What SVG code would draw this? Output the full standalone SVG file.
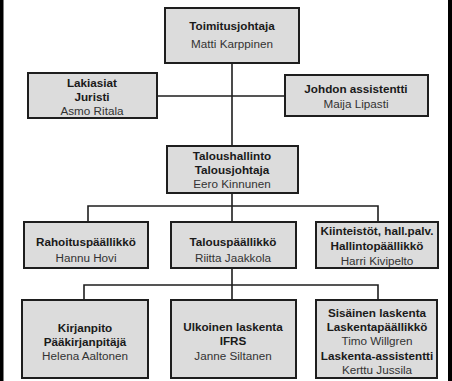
<svg xmlns="http://www.w3.org/2000/svg" width="452" height="381" viewBox="0 0 452 381">
<style>
.box{fill:#dcdcdc;stroke:#1e1e1e;stroke-width:2}
.ln{stroke:#1e1e1e;stroke-width:1.6;fill:none}
text{font-family:"Liberation Sans",Arial,sans-serif;font-size:11.7px;text-anchor:middle}
.b{font-weight:bold;fill:#1a1a1a}
.r{fill:#333}
</style>
<rect x="0" y="0" width="452" height="381" fill="#ffffff"/>
<rect x="0" y="0" width="3.5" height="381" fill="#000"/>
<rect x="448" y="0" width="4" height="381" fill="#000"/>
<g id="connectors">
<path class="ln" d="M232 63V146M157 96H285"/>
<path class="ln" d="M232 193V206M88 222V206H378V222M232 206V222"/>
<path class="ln" d="M232 268V285M84 300V285H378V300M232 285V300"/>
</g>
<g id="toimitusjohtaja">
<rect class="box" x="165" y="8" width="134" height="55"/>
<text class="b" x="232" y="30">Toimitusjohtaja</text>
<text class="r" x="232" y="48">Matti Karppinen</text>
</g>
<g id="lakiasiat">
<rect class="box" x="28" y="73" width="129" height="45"/>
<text class="b" x="92" y="87">Lakiasiat</text>
<text class="b" x="92" y="101">Juristi</text>
<text class="r" x="92" y="115">Asmo Ritala</text>
</g>
<g id="johdon-assistentti">
<rect class="box" x="285" y="75" width="143" height="41"/>
<text class="b" x="356" y="93">Johdon assistentti</text>
<text class="r" x="356" y="108">Maija Lipasti</text>
</g>
<g id="taloushallinto">
<rect class="box" x="167" y="146" width="131" height="47"/>
<text class="b" x="232" y="160">Taloushallinto</text>
<text class="b" x="232" y="174">Talousjohtaja</text>
<text class="r" x="232" y="188">Eero Kinnunen</text>
</g>
<g id="rahoitus">
<rect class="box" x="24" y="222" width="124" height="46"/>
<text class="b" x="86" y="246">Rahoituspäällikkö</text>
<text class="r" x="86" y="262">Hannu Hovi</text>
</g>
<g id="talouspaallikko">
<rect class="box" x="171" y="222" width="125" height="46"/>
<text class="b" x="233" y="246">Talouspäällikkö</text>
<text class="r" x="233" y="262">Riitta Jaakkola</text>
</g>
<g id="kiinteistot">
<rect class="box" x="316" y="222" width="122" height="46"/>
<text class="b" x="377" y="235">Kiinteistöt, hall.palv.</text>
<text class="b" x="377" y="250">Hallintopäällikkö</text>
<text class="r" x="377" y="265">Harri Kivipelto</text>
</g>
<g id="kirjanpito">
<rect class="box" x="22" y="300" width="126" height="78"/>
<text class="b" x="85" y="332">Kirjanpito</text>
<text class="b" x="85" y="346">Pääkirjanpitäjä</text>
<text class="r" x="85" y="360">Helena Aaltonen</text>
</g>
<g id="ulkoinen">
<rect class="box" x="171" y="300" width="125" height="78"/>
<text class="b" x="233" y="331">Ulkoinen laskenta</text>
<text class="b" x="233" y="345">IFRS</text>
<text class="r" x="233" y="360">Janne Siltanen</text>
</g>
<g id="sisainen">
<rect class="box" x="316" y="300" width="121" height="78"/>
<text class="b" x="377" y="317">Sisäinen laskenta</text>
<text class="b" x="377" y="331">Laskentapäällikkö</text>
<text class="r" x="377" y="345">Timo Willgren</text>
<text class="b" x="377" y="360">Laskenta-assistentti</text>
<text class="r" x="377" y="374">Kerttu Jussila</text>
</g>
</svg>
